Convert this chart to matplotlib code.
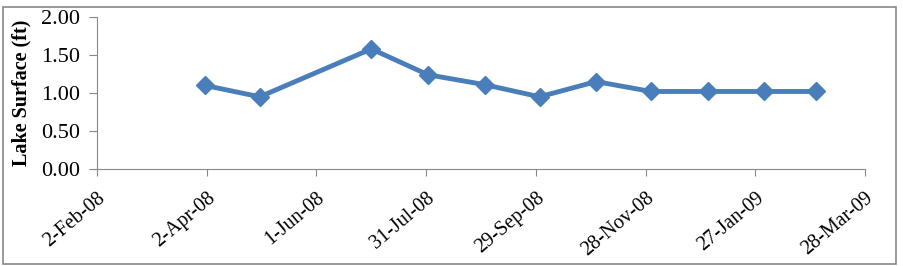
import matplotlib as mpl
mpl.use('Agg')
import matplotlib.pyplot as plt
from matplotlib.patches import Rectangle
from datetime import datetime, timedelta

mpl.rcParams['font.family'] = ['Liberation Serif', 'DejaVu Serif']

# data (first of each month)
dates = ['2008-04-01', '2008-05-01', '2008-07-01', '2008-08-01', '2008-09-01',
         '2008-10-01', '2008-11-01', '2008-12-01', '2009-01-01', '2009-02-01',
         '2009-03-01']
lake_surface = [1.10, 0.95, 1.58, 1.24, 1.11, 0.95, 1.15, 1.02, 1.02, 1.02, 1.02]

x_start = datetime(2008, 2, 2)
tick_step_days = 60
n_ticks = 8
y_ticks = [0.0, 0.5, 1.0, 1.5, 2.0]

X = [datetime.strptime(d, '%Y-%m-%d') for d in dates]
xticks = [x_start + timedelta(days=tick_step_days * i) for i in range(n_ticks)]

fig = plt.figure(figsize=(9.04, 2.66), dpi=100)
ax = fig.add_axes([97/904, 1 - 169/266, (865-97)/904, (169-17)/266])

ax.plot(X, lake_surface, color='#4a7ebb', lw=3.5, marker='D', ms=9,
        markerfacecolor='#4a7ebb', markeredgecolor='#4a7ebb')

ax.set_xlim(xticks[0], xticks[-1])
ax.set_ylim(0, 2.0)
ax.set_xticks(xticks)
ax.set_xticklabels([f'{d.day}-{d.strftime("%b-%y")}' for d in xticks],
                   rotation=40, ha='right', rotation_mode='anchor', fontsize=14.5)
ax.set_yticks(y_ticks)
ax.set_yticklabels([f'{v:.2f}' for v in y_ticks], fontsize=16)
ax.tick_params(axis='x', length=5, color='#888888', pad=9)
ax.tick_params(axis='y', length=6, color='#888888', pad=6)
for s in ['top', 'right']:
    ax.spines[s].set_visible(False)
for s in ['left', 'bottom']:
    ax.spines[s].set_color('#888888')
ax.set_ylabel('Lake Surface (ft)', fontsize=14.5, fontweight='bold', labelpad=7)

# outer chart border
fig.patches.append(Rectangle((3/904, 2/266), 893/904, 257/266, transform=fig.transFigure,
                             fill=False, edgecolor='#888888', lw=1.2))

fig.savefig('out.png', dpi=100)
plt.close(fig)
